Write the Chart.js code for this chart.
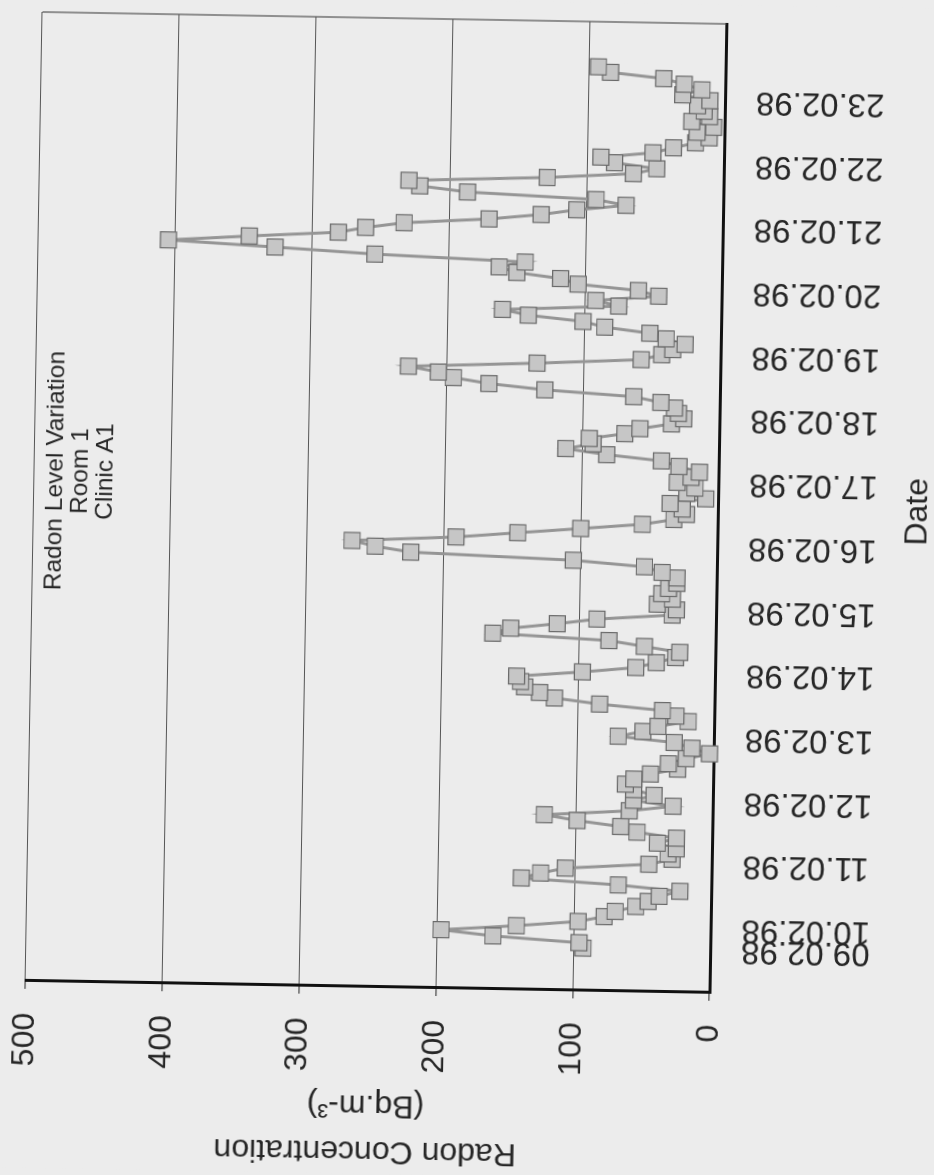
<!DOCTYPE html>
<html>
<head>
<meta charset="utf-8">
<title>Radon Level Variation</title>
<script src="https://cdn.jsdelivr.net/npm/chart.js@4.4.1/dist/chart.umd.min.js"></script>
<style>
  html, body { margin: 0; padding: 0; background: #ececec; overflow: hidden; }
  body { width: 934px; height: 1175px; position: relative; }
  /* O gráfico é desenhado "deitado" e depois girado, como na página escaneada */
  #page {
    position: absolute;
    left: -120.5px;
    top: 120.5px;
    width: 1175px;
    height: 934px;
    background: #ececec;
    transform: rotate(-89deg);
  }
</style>
</head>
<body>
<div id="page"><canvas id="radonChart" width="1175" height="934"></canvas></div>
<script>
/**
 * Radon Level Variation - Room 1 - Clinic A1
 * Leituras a cada 2 horas
 */

// Rótulos do eixo de datas (um por dia)
const dayLabels = [
    '09.02.98', '10.02.98', '11.02.98', '12.02.98', '13.02.98',
    '14.02.98', '15.02.98', '16.02.98', '17.02.98', '18.02.98',
    '19.02.98', '20.02.98', '21.02.98', '22.02.98', '23.02.98'
];

// Concentração de radônio (Bq.m-3), um array por dia
const readings = [
    [93, 96, 159, 197],                                     // 09.02
    [142, 97, 78, 70, 55, 46, 38, 23, 68, 139, 125, 107],   // 10.02
    [46, 29, 32, 26, 40, 26, 55, 67, 99, 123, 61, 29],      // 11.02
    [58, 43, 58, 64, 58, 46, 26, 33, 20, 3, 16, 29],        // 12.02
    [70, 52, 41, 19, 28, 38, 84, 117, 128, 139, 142, 145],  // 13.02
    [97, 58, 43, 29, 26, 52, 78, 163, 150, 116, 87, 32],    // 14.02
    [29, 43, 32, 40, 35, 29, 29, 40, 53, 105, 224, 250],    // 15.02
    [267, 191, 146, 100, 55, 32, 23, 26, 35, 9, 23, 17],    // 16.02
    [30, 20, 14, 29, 42, 82, 112, 92, 95, 69, 58, 35],      // 17.02
    [26, 30, 33, 43, 63, 128, 169, 195, 206, 228, 134, 58], // 18.02
    [43, 35, 26, 40, 52, 85, 101, 141, 160, 75, 92, 46],    // 19.02
    [61, 105, 118, 150, 163, 144, 254, 327, 405, 346, 281, 261], // 20.02
    [233, 171, 133, 107, 71, 93, 187, 222, 230, 129, 66, 49],    // 21.02
    [80, 90, 52, 37, 21, 11, 20, 8, 24, 11, 15, 20],        // 22.02
    [11, 31, 17, 30, 45, 84, 93]                            // 23.02
];

// Marcas do eixo de concentração
const valueTicks = [0, 100, 200, 300, 400, 500];

// Texto da caixa dentro do gráfico
const noteLines = ['Radon Level Variation', 'Room 1', 'Clinic A1'];

document.addEventListener('DOMContentLoaded', function() {
    const textColor = '#262626';
    const fontFamily = '"Liberation Sans", Arial, sans-serif';
    Chart.defaults.font.family = fontFamily;

    // Índice de cada leitura e início de cada dia no eixo
    const dayStart = [];
    const points = [];
    readings.forEach(day => {
        dayStart.push(points.length);
        day.forEach(v => points.push({ x: points.length, y: v }));
    });

    // Moldura direita e nota de texto
    const frameAndNote = {
        id: 'frameAndNote',
        afterDraw(chart) {
            const { ctx, chartArea: a } = chart;
            ctx.save();
            ctx.strokeStyle = '#505050';
            ctx.lineWidth = 1.2;
            ctx.beginPath();
            ctx.moveTo(a.right, a.top);
            ctx.lineTo(a.right, a.bottom);
            ctx.stroke();

            ctx.fillStyle = textColor;
            ctx.font = '24.5px ' + fontFamily;
            ctx.textAlign = 'center';
            ctx.textBaseline = 'middle';
            const cx = a.left + a.width * 0.527;
            noteLines.forEach((t, k) => ctx.fillText(t, cx, a.top + 21 + k * 25));
            ctx.restore();
        }
    };

    new Chart(document.getElementById('radonChart'), {
        type: 'line',
        data: {
            datasets: [{
                data: points,
                borderColor: '#959595',
                borderWidth: 3,
                pointStyle: 'rect',
                pointRadius: 11.3,
                pointBackgroundColor: '#c6c6c6',
                pointBorderColor: '#6a6a6a',
                pointBorderWidth: 1.2,
                tension: 0,
                clip: false
            }]
        },
        options: {
            responsive: false,
            animation: false,
            devicePixelRatio: 1,
            layout: { padding: { top: 32, right: 19, left: 0, bottom: 0 } },
            plugins: {
                legend: { display: false },
                tooltip: { enabled: false }
            },
            scales: {
                x: {
                    type: 'linear',
                    min: -8,
                    max: 174.5,
                    afterBuildTicks: scale => {
                        scale.ticks = dayStart.map(v => ({ value: v }));
                    },
                    afterFit: scale => {
                        scale.height = 218;
                        scale.paddingLeft = 0;
                        scale.paddingRight = 0;
                    },
                    grid: { display: false, drawTicks: false },
                    border: { display: true, color: '#111', width: 3 },
                    ticks: {
                        autoSkip: false,
                        minRotation: 90,
                        maxRotation: 90,
                        padding: 31,
                        color: textColor,
                        font: { size: 33 },
                        callback: value => dayLabels[dayStart.indexOf(value)]
                    },
                    title: {
                        display: true,
                        text: 'Date',
                        color: textColor,
                        font: { size: 32, lineHeight: 1.1 },
                        padding: 0
                    }
                },
                y: {
                    min: 0,
                    max: 500,
                    afterBuildTicks: scale => {
                        scale.ticks = valueTicks.map(v => ({ value: v }));
                    },
                    afterFit: scale => {
                        scale.width = 187;
                        scale.paddingTop = 0;
                        scale.paddingBottom = 0;
                    },
                    grid: {
                        color: '#555',
                        lineWidth: 1.1,
                        tickLength: 8,
                        tickColor: '#333'
                    },
                    border: { color: '#111', width: 3 },
                    ticks: {
                        padding: 24,
                        color: textColor,
                        font: { size: 32 }
                    },
                    title: {
                        display: true,
                        text: ['Radon Concentration', '(Bq.m-³)'],
                        color: textColor,
                        font: { size: 32, lineHeight: 1.45 },
                        padding: { top: 0, bottom: 0 }
                    }
                }
            }
        },
        plugins: [frameAndNote]
    });
});
</script>
</body>
</html>
